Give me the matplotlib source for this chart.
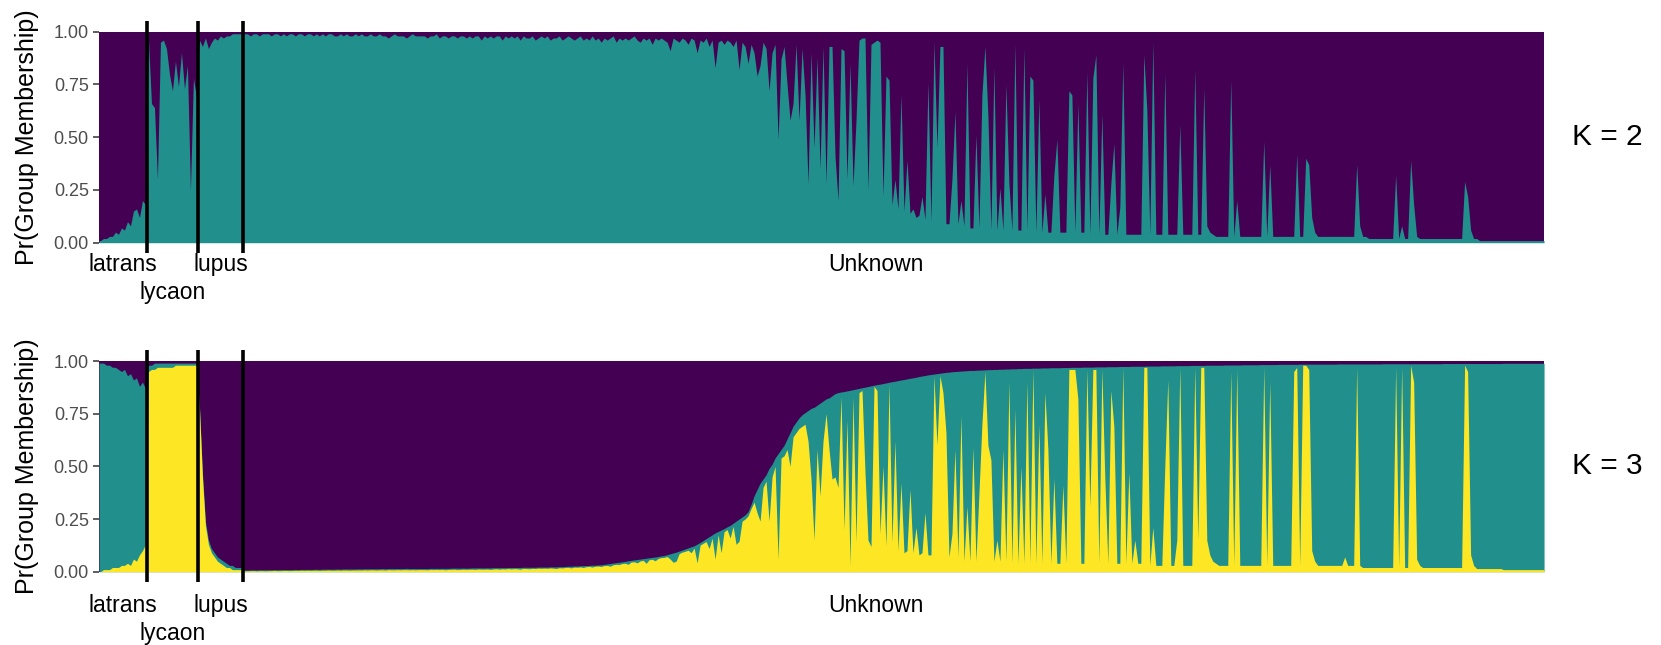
import numpy as np
import matplotlib

matplotlib.use("Agg")
import matplotlib.pyplot as plt

PURPLE = "#440154"
TEAL = "#21908C"
YELLOW = "#FDE725"

plt.rcParams["font.family"] = ["Liberation Sans", "DejaVu Sans"]

groups = ["latrans", "lycaon", "lupus", "Unknown"]

# ---- K = 2 : share of the teal cluster (percent), rest is purple ----
latrans_k2 = [1, 2, 2, 3, 3, 5, 4, 7, 6, 10, 8, 15, 16, 12, 20, 18]
lycaon_k2 = [96, 66, 64, 30, 95, 96, 92, 80, 72, 86, 74, 90, 73, 84, 25, 78, 69]
lupus_k2 = [96, 93, 97, 92, 95, 97, 96, 98, 97, 98, 98, 99, 99, 99, 99]
unknown_k2 = [
    99, 99, 98, 99, 99, 98, 99, 99, 99, 98, 99, 99, 98, 99, 98, 99, 99, 98, 99, 99,
    98, 99, 99, 98, 99, 98, 99, 98, 99, 99, 98, 98, 99, 98, 99, 98, 98, 99, 98, 99,
    98, 98, 99, 98, 98, 99, 98, 98, 97, 98, 99, 98, 98, 98, 97, 98, 99, 98, 98, 98,
    98, 97, 98, 98, 99, 97, 98, 98, 97, 98, 98, 97, 98, 98, 97, 98, 97, 98, 98, 96,
    98, 97, 98, 97, 98, 98, 96, 98, 97, 98, 97, 98, 96, 98, 97, 97, 98, 96, 97, 98,
    97, 98, 96, 97, 97, 98, 96, 97, 98, 97, 96, 97, 98, 96, 97, 96, 98, 96, 97, 95,
    97, 96, 97, 98, 95, 97, 96, 97, 96, 97, 98, 96, 95, 97, 96, 97, 94, 97, 96, 97,
    96, 95, 91, 97, 96, 95, 97, 96, 94, 97, 96, 90, 96, 95, 97, 93, 96, 83, 95, 96,
    94, 96, 95, 93, 96, 82, 95, 93, 85, 94, 90, 79, 84, 95, 92, 72, 90, 94, 49, 87,
    93, 75, 58, 66, 94, 58, 92, 70, 28, 90, 45, 88, 35, 93, 28, 93, 93, 41, 20, 92,
    91, 30, 85, 27, 58, 96, 97, 97, 25, 94, 95, 96, 95, 22, 79, 77, 18, 30, 16, 70,
    15, 39, 14, 16, 12, 13, 22, 11, 76, 10, 95, 45, 93, 93, 9, 9, 30, 62, 9, 20,
    8, 85, 7, 7, 51, 7, 70, 93, 60, 6, 83, 6, 26, 6, 75, 28, 6, 94, 6, 6,
    92, 6, 79, 77, 5, 68, 5, 23, 5, 5, 32, 49, 5, 5, 5, 72, 70, 5, 66, 5,
    5, 81, 4, 78, 89, 4, 61, 4, 4, 28, 47, 4, 17, 85, 4, 4, 4, 4, 4, 4,
    89, 63, 4, 95, 4, 4, 4, 80, 4, 4, 4, 4, 56, 4, 4, 4, 4, 82, 4, 4,
    73, 8, 5, 4, 3, 3, 3, 3, 3, 77, 3, 20, 3, 3, 3, 3, 3, 3, 3, 3,
    48, 3, 37, 3, 3, 3, 3, 3, 3, 3, 3, 42, 3, 3, 40, 37, 12, 5, 3, 3,
    3, 3, 3, 3, 3, 3, 3, 3, 3, 3, 3, 37, 8, 3, 3, 2, 2, 2, 2, 2,
    2, 2, 2, 2, 32, 2, 8, 2, 2, 39, 18, 3, 2, 2, 2, 2, 2, 2, 2, 2,
    2, 2, 2, 2, 2, 2, 2, 29, 22, 6, 2, 2, 1, 1, 1, 1, 1, 1, 1, 1,
    1, 1, 1, 1, 1, 1, 1, 1, 1, 1, 1, 1, 1, 1,
]

# ---- K = 3 : purple and yellow shares (percent), teal is the remainder ----
latrans_k3_purple = [1, 1, 2, 2, 3, 3, 4, 5, 4, 7, 6, 9, 8, 12, 10, 13]
latrans_k3_yellow = [0, 1, 1, 1, 2, 2, 2, 3, 3, 4, 3, 6, 5, 8, 10, 13]
lycaon_k3_purple = [2, 2, 1, 1, 1, 1, 1, 1, 1, 1, 1, 1, 1, 1, 1, 1, 1]
lycaon_k3_yellow = [95, 96, 96, 97, 97, 97, 97, 97, 97, 98, 98, 98, 98, 98, 98, 98, 98]
lupus_k3_purple = [21, 53, 76, 85, 89, 91, 93, 94, 95, 96, 97, 97, 98, 98, 98]
lupus_k3_yellow = [78, 45, 22, 13, 9, 7, 5, 4, 3, 2, 2, 1, 1, 1, 1]
unknown_k3_purple = [
    99.2, 99.2, 99.2, 99.1, 99.2, 99.1, 99.1, 99.1, 99.1, 99.1, 99.0, 99.1, 99.0, 99.0, 99.0, 99.0, 99.0, 98.9, 99.0, 98.9,
    98.9, 98.9, 98.9, 98.9, 98.8, 98.9, 98.8, 98.8, 98.8, 98.8, 98.8, 98.7, 98.8, 98.7, 98.7, 98.7, 98.7, 98.7, 98.6, 98.7,
    98.6, 98.6, 98.6, 98.6, 98.6, 98.6, 98.5, 98.6, 98.5, 98.5, 98.5, 98.5, 98.5, 98.5, 98.4, 98.5, 98.5, 98.5, 98.5, 98.5,
    98.5, 98.5, 98.4, 98.4, 98.4, 98.4, 98.4, 98.4, 98.4, 98.3, 98.3, 98.3, 98.3, 98.3, 98.3, 98.3, 98.2, 98.2, 98.2, 98.2,
    98.2, 98.2, 98.2, 98.1, 98.1, 98.1, 98.1, 98.1, 98.0, 98.0, 98.0, 98.0, 98.0, 97.9, 97.9, 97.9, 97.9, 97.9, 97.8, 97.8,
    97.8, 97.8, 97.7, 97.7, 97.7, 97.6, 97.6, 97.5, 97.4, 97.4, 97.3, 97.3, 97.2, 97.1, 97.1, 97.0, 96.9, 96.9, 96.8, 96.7,
    96.5, 96.3, 96.1, 95.9, 95.7, 95.5, 95.3, 95.1, 94.8, 94.6, 94.4, 94.2, 94.0, 93.8, 93.6, 93.4, 93.2, 93.0, 92.8, 92.5,
    92.3, 91.9, 91.5, 91.1, 90.7, 90.2, 89.7, 89.2, 88.7, 88.2, 87.7, 86.9, 86.1, 85.2, 84.3, 83.4, 82.5, 81.6, 80.9, 80.2,
    79.5, 78.7, 78.0, 77.0, 76.0, 75.0, 74.0, 73.0, 71.5, 68.0, 64.0, 61.0, 58.0, 56.0, 54.0, 51.0, 49.0, 46.0, 44.0, 42.0,
    40.0, 37.0, 34.0, 31.0, 29.0, 27.0, 25.5, 24.5, 23.5, 22.5, 22.0, 21.0, 20.0, 19.0, 18.0, 17.5, 16.5, 15.5, 15.0, 14.7,
    14.5, 14.2, 13.9, 13.6, 13.3, 13.0, 12.7, 12.4, 12.1, 11.8, 11.5, 11.2, 11.0, 10.7, 10.4, 10.1, 9.8, 9.6, 9.3, 9.0,
    8.8, 8.5, 8.2, 8.0, 7.7, 7.4, 7.1, 6.9, 6.6, 6.4, 6.2, 6.0, 5.8, 5.6, 5.4, 5.3, 5.1, 5.0, 4.9, 4.8,
    4.7, 4.6, 4.5, 4.5, 4.4, 4.3, 4.3, 4.2, 4.1, 4.1, 4.0, 4.0, 3.9, 3.9, 3.8, 3.8, 3.7, 3.7, 3.6, 3.6,
    3.5, 3.5, 3.5, 3.4, 3.4, 3.4, 3.3, 3.3, 3.3, 3.2, 3.2, 3.2, 3.2, 3.1, 3.1, 3.1, 3.0, 3.0, 3.0, 3.0,
    2.9, 2.9, 2.9, 2.9, 2.8, 2.8, 2.8, 2.8, 2.7, 2.7, 2.7, 2.7, 2.6, 2.6, 2.6, 2.6, 2.5, 2.5, 2.5, 2.5,
    2.5, 2.4, 2.4, 2.4, 2.4, 2.4, 2.3, 2.3, 2.3, 2.3, 2.3, 2.2, 2.2, 2.2, 2.2, 2.2, 2.1, 2.1, 2.1, 2.1,
    2.1, 2.0, 2.0, 2.0, 2.0, 2.0, 2.0, 1.9, 1.9, 1.9, 1.9, 1.9, 1.9, 1.8, 1.8, 1.8, 1.8, 1.8, 1.8, 1.7,
    1.7, 1.7, 1.7, 1.7, 1.7, 1.6, 1.6, 1.6, 1.6, 1.6, 1.6, 1.6, 1.5, 1.5, 1.5, 1.5, 1.5, 1.5, 1.5, 1.5,
    1.5, 1.5, 1.5, 1.5, 1.5, 1.4, 1.4, 1.4, 1.4, 1.4, 1.4, 1.4, 1.4, 1.4, 1.4, 1.4, 1.4, 1.4, 1.4, 1.4,
    1.3, 1.3, 1.3, 1.3, 1.3, 1.3, 1.3, 1.3, 1.3, 1.3, 1.3, 1.3, 1.3, 1.3, 1.3, 1.3, 1.3, 1.3, 1.3, 1.3,
    1.2, 1.2, 1.2, 1.2, 1.2, 1.2, 1.2, 1.2, 1.2, 1.2, 1.2, 1.2, 1.2, 1.2, 1.2, 1.2, 1.2, 1.2, 1.2, 1.2,
    1.1, 1.1, 1.1, 1.1, 1.1, 1.1, 1.1, 1.1, 1.1, 1.1, 1.1, 1.1, 1.1, 1.1,
]
unknown_k3_yellow = [
    0.4, 0.4, 0.5, 0.5, 0.4, 0.5, 0.5, 0.4, 0.5, 0.5, 0.6, 0.5, 0.5, 0.6, 0.6, 0.5, 0.6, 0.6, 0.6, 0.7,
    0.6, 0.7, 0.6, 0.7, 0.7, 0.6, 0.7, 0.7, 0.8, 0.7, 0.7, 0.8, 0.7, 0.8, 0.8, 0.7, 0.8, 0.8, 0.8, 0.8,
    0.9, 0.8, 0.9, 0.9, 0.8, 0.9, 0.9, 0.8, 1.0, 0.9, 0.9, 1.0, 0.9, 1.0, 1.0, 0.9, 1.0, 0.9, 1.0, 1.0,
    1.0, 0.9, 1.1, 1.0, 1.1, 1.0, 1.1, 0.9, 1.1, 1.1, 1.2, 1.0, 1.1, 1.2, 1.1, 1.2, 1.2, 1.1, 1.3, 1.2,
    1.2, 1.3, 1.1, 1.3, 1.4, 1.2, 1.4, 1.3, 1.5, 1.3, 1.5, 1.4, 1.2, 1.6, 1.5, 1.4, 1.6, 1.5, 1.7, 1.6,
    1.7, 1.6, 1.8, 1.7, 1.5, 1.9, 1.8, 2.0, 2.1, 1.8, 2.2, 2.1, 2.3, 2.0, 2.4, 2.5, 2.2, 2.6, 2.7, 2.5,
    2.9, 3.0, 2.6, 3.3, 3.5, 3.4, 3.9, 4.0, 3.5, 4.6, 4.7, 4.2, 5.1, 5.4, 4.0, 5.7, 5.9, 5.2, 6.3, 6.7,
    6.8, 7.2, 6.0, 4.5, 5.0, 8.6, 9.3, 9.7, 10.2, 9.0, 11.2, 4.2, 12.6, 13.5, 14.3, 11.0, 15.9, 6.0, 17.6, 9.0,
    19, 20, 16, 21.5, 13, 14.5, 24, 25, 26.5, 30, 33, 28, 24, 40, 43, 24, 45, 50, 6, 54,
    55, 58, 50, 64, 66, 68, 69, 70, 62, 44, 15, 58, 36, 62, 75, 58, 44, 45, 40, 83,
    20, 72, 3, 83, 14, 85, 86, 47, 15, 12, 88, 86, 18, 50, 12, 89, 14, 62, 10, 42,
    9, 10, 39, 9, 21, 8, 9, 28, 8, 8, 93, 60, 93, 85, 66, 7, 18, 58, 7, 74,
    5, 31, 5, 59, 5, 37, 70, 95, 60, 53, 5, 15, 5, 58, 5, 90, 4, 77, 4, 50,
    4, 90, 4, 96, 4, 70, 4, 85, 58, 4, 44, 4, 4, 41, 4, 96, 96, 96, 82, 4,
    4, 96, 31, 96, 96, 4, 96, 44, 4, 86, 69, 4, 4, 97, 4, 47, 4, 15, 4, 4,
    97, 97, 3, 21, 3, 3, 3, 50, 91, 3, 3, 15, 97, 3, 3, 3, 3, 97, 15, 97,
    97, 15, 8, 5, 4, 3, 3, 3, 3, 95, 3, 96, 3, 3, 3, 3, 3, 3, 3, 3,
    97, 3, 90, 3, 3, 3, 3, 3, 3, 3, 95, 97, 3, 98, 98, 96, 10, 5, 3, 3,
    3, 3, 3, 3, 3, 3, 3, 7, 3, 3, 3, 97, 3, 2, 2, 2, 2, 2, 2, 2,
    2, 2, 2, 2, 97, 2, 97, 2, 2, 98, 90, 6, 3, 2, 2, 2, 2, 2, 2, 2,
    2, 2, 2, 2, 2, 2, 2, 98, 95, 8, 3, 1.5, 1.5, 1.5, 1.5, 1.5, 1.5, 1.5, 1.5, 1.5,
    1, 1, 1, 1, 1, 1, 1, 1, 1, 1, 1, 1, 1, 1,
]

k2_teal = np.array(latrans_k2 + lycaon_k2 + lupus_k2 + unknown_k2) / 100
k3_purple = np.array(latrans_k3_purple + lycaon_k3_purple + lupus_k3_purple + unknown_k3_purple) / 100
k3_yellow = np.array(latrans_k3_yellow + lycaon_k3_yellow + lupus_k3_yellow + unknown_k3_yellow) / 100
k3_teal = np.clip(1 - k3_purple - k3_yellow, 0, 1)

sizes = [len(latrans_k2), len(lycaon_k2), len(lupus_k2), len(unknown_k2)]
n = len(k2_teal)
ends = np.cumsum(sizes)
starts = np.r_[0, ends[:-1]]
bounds = ends[:-1] - 0.5
label_x = [(s + e - 1) / 2 for s, e in zip(starts[:3], ends[:3])] + [258.5]


def padded(vals):
    # repeat the edge individuals so the areas reach the panel edges
    x = np.r_[-0.5, np.arange(n), n - 0.5]
    return x, np.r_[vals[0], vals, vals[-1]]


def draw_panel(ax, layers, k_text, row1_y, row2_y):
    x, _ = padded(k2_teal)
    ax.fill_between(x, 0, 1, color=PURPLE, linewidth=0)
    for tops, color in layers:
        _, y = padded(tops)
        ax.fill_between(x, 0, y, color=color, linewidth=0)
    ax.set_xlim(-0.5, n - 0.5)
    ax.set_ylim(0, 1)
    ax.vlines(bounds, -0.05, 1.05, color="black", linewidth=2.6, clip_on=False, zorder=5)
    for s in ax.spines.values():
        s.set_visible(False)
    ax.set_xticks([])
    ax.set_yticks([0, 0.25, 0.5, 0.75, 1.0])
    ax.set_yticklabels(["0.00", "0.25", "0.50", "0.75", "1.00"])
    ax.tick_params(axis="y", length=4.3, width=1.1, color="#333333",
                   labelcolor="#4D4D4D", labelsize=13, pad=3)
    tr = ax.get_xaxis_transform()
    for i, (lab, lx) in enumerate(zip(groups, label_x)):
        yy = row2_y if i == 1 else row1_y
        ax.text(lx, yy, lab, transform=tr, ha="center", va="center",
                fontsize=16.5, color="black", clip_on=False)
    ax.text(1.019, 0.5, k_text, transform=ax.transAxes, ha="left",
            va="center", fontsize=21.5, color="black")


fig = plt.figure(figsize=(16.61, 6.45), dpi=100)
ax1 = fig.add_axes([0.0596, 0.6237, 0.8700, 0.3272])
ax2 = fig.add_axes([0.0596, 0.1136, 0.8700, 0.3267])

draw_panel(ax1, [(k2_teal, TEAL)], "K = 2", -0.103, -0.236)
draw_panel(ax2, [(k3_yellow + k3_teal, TEAL), (k3_yellow, YELLOW)], "K = 3", -0.16, -0.292)

for ax in (ax1, ax2):
    pos = ax.get_position()
    fig.text(0.016, (pos.y0 + pos.y1) / 2, "Pr(Group Membership)", rotation=90,
             ha="center", va="center", fontsize=18)

fig.savefig("out.png", dpi=100)
